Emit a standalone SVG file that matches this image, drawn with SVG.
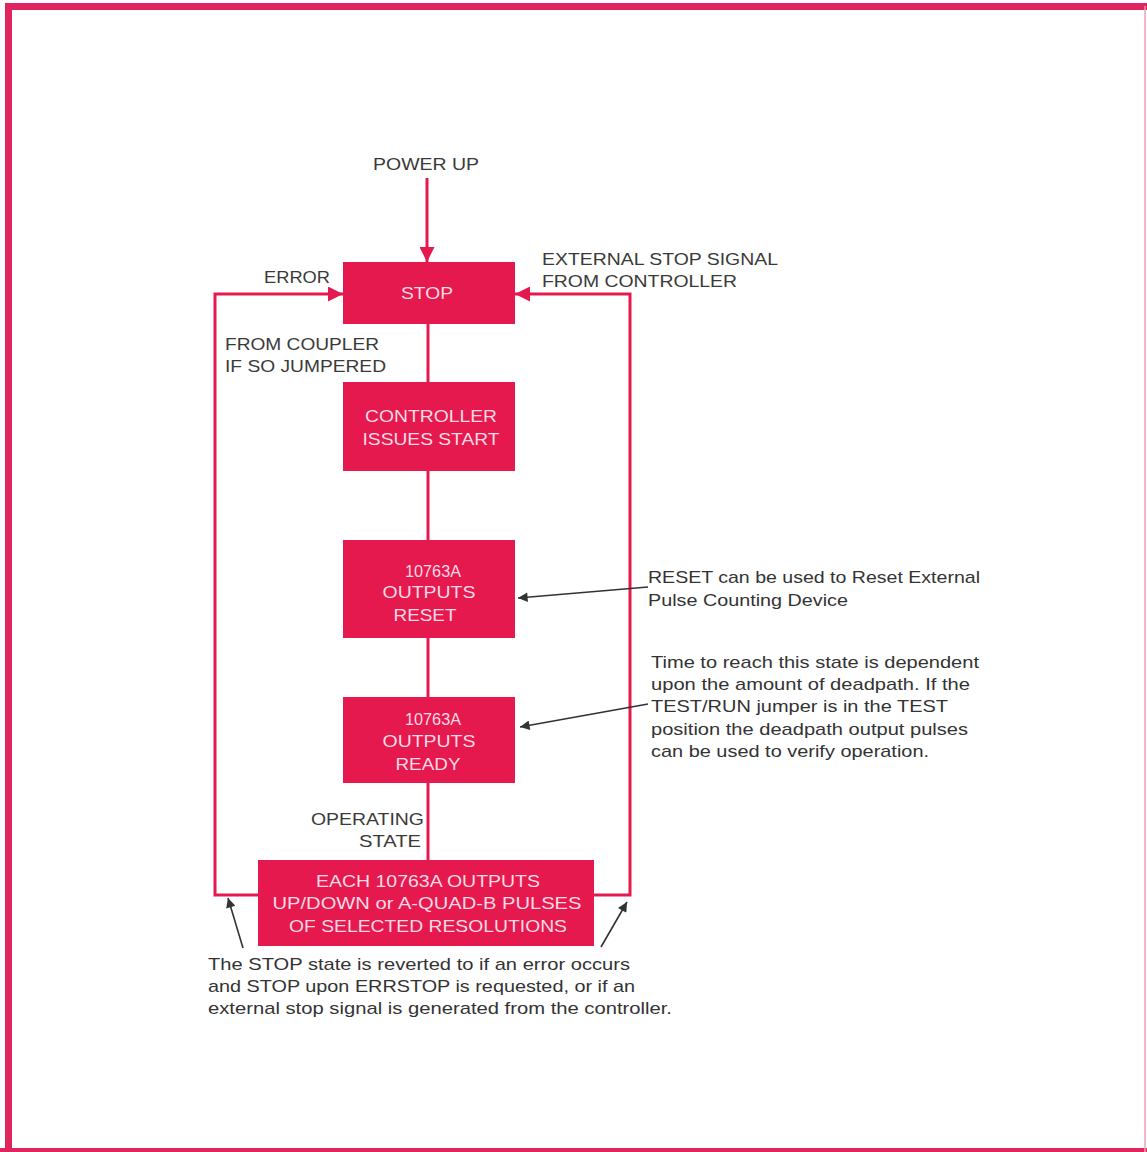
<svg xmlns="http://www.w3.org/2000/svg" width="1147" height="1152" viewBox="0 0 1147 1152">
<defs>
<style>
.box{fill:#e6194f;}
.bt{font-family:"Liberation Sans",Arial,sans-serif;font-size:17px;fill:#fbd9e3;text-anchor:middle;}
.lb{font-family:"Liberation Sans",Arial,sans-serif;font-size:17px;fill:#3a3a3a;}
.note{font-family:"Liberation Sans",Arial,sans-serif;font-size:17px;fill:#333;}
.pk{fill:none;stroke:#e6194f;stroke-width:3;}
.bk{fill:none;stroke:#333;stroke-width:1.6;}
</style>
<marker id="pa" viewBox="0 0 10 10" refX="10" refY="5" markerWidth="5" markerHeight="5" markerUnits="strokeWidth" orient="auto">
<path d="M0,0 L10,5 L0,10 z" fill="#e6194f"/>
</marker>
<marker id="ba" viewBox="0 0 10 10" refX="10" refY="5" markerWidth="7" markerHeight="6" markerUnits="strokeWidth" orient="auto">
<path d="M0,0 L10,5 L0,10 z" fill="#333"/>
</marker>
</defs>
<rect width="1147" height="1152" fill="#ffffff"/>
<g id="frame">
<path d="M8.5,1152 V6.5 H1147" fill="none" stroke="#e0245e" stroke-width="7"/>
<line x1="0" y1="1150" x2="1147" y2="1150" stroke="#e0245e" stroke-width="4"/>
<line x1="1145" y1="6" x2="1145" y2="1152" stroke="#f0a0b8" stroke-width="1.5"/>
</g>
<g id="connectors">
<line class="pk" x1="427" y1="178" x2="427" y2="262" marker-end="url(#pa)"/>
<path class="pk" d="M258,895 H215 V294 H343" marker-end="url(#pa)"/>
<path class="pk" d="M594,895 H630 V294 H515" marker-end="url(#pa)"/>
<line class="pk" x1="428" y1="324" x2="428" y2="382"/>
<line class="pk" x1="428" y1="471" x2="428" y2="540"/>
<line class="pk" x1="428" y1="638" x2="428" y2="697"/>
<line class="pk" x1="428" y1="783" x2="428" y2="860"/>
<line class="bk" x1="648" y1="587" x2="518" y2="598" marker-end="url(#ba)"/>
<line class="bk" x1="648" y1="704" x2="520" y2="727" marker-end="url(#ba)"/>
<line class="bk" x1="243" y1="948" x2="228" y2="898" marker-end="url(#ba)"/>
<line class="bk" x1="601" y1="947" x2="627" y2="902" marker-end="url(#ba)"/>
</g>
<g id="labels">
<text class="lb" x="373" y="170" textLength="106" lengthAdjust="spacingAndGlyphs">POWER  UP</text>
<text class="lb" x="264" y="283" textLength="66" lengthAdjust="spacingAndGlyphs">ERROR</text>
<text class="lb" x="542" y="265" textLength="236" lengthAdjust="spacingAndGlyphs">EXTERNAL STOP SIGNAL</text>
<text class="lb" x="542" y="287" textLength="195" lengthAdjust="spacingAndGlyphs">FROM CONTROLLER</text>
<text class="lb" x="225" y="350" textLength="154" lengthAdjust="spacingAndGlyphs">FROM COUPLER</text>
<text class="lb" x="225" y="372" textLength="161" lengthAdjust="spacingAndGlyphs">IF SO JUMPERED</text>
<text class="lb" x="311" y="825" textLength="113" lengthAdjust="spacingAndGlyphs">OPERATING</text>
<text class="lb" x="359" y="847" textLength="62" lengthAdjust="spacingAndGlyphs">STATE</text>
</g>
<g id="node-stop">
<rect class="box" x="343" y="262" width="172" height="62"/>
<text class="bt" x="427" y="299" textLength="52" lengthAdjust="spacingAndGlyphs">STOP</text>
</g>
<g id="node-controller">
<rect class="box" x="343" y="382" width="172" height="89"/>
<text class="bt" x="431" y="422" textLength="132" lengthAdjust="spacingAndGlyphs">CONTROLLER</text>
<text class="bt" x="431" y="445" textLength="137" lengthAdjust="spacingAndGlyphs">ISSUES START</text>
</g>
<g id="node-reset">
<rect class="box" x="343" y="540" width="172" height="98"/>
<text class="bt" x="433" y="577" textLength="56" lengthAdjust="spacingAndGlyphs">10763A</text>
<text class="bt" x="429" y="598" textLength="93" lengthAdjust="spacingAndGlyphs">OUTPUTS</text>
<text class="bt" x="425" y="621" textLength="63" lengthAdjust="spacingAndGlyphs">RESET</text>
</g>
<g id="node-ready">
<rect class="box" x="343" y="697" width="172" height="86"/>
<text class="bt" x="433" y="725" textLength="56" lengthAdjust="spacingAndGlyphs">10763A</text>
<text class="bt" x="429" y="747" textLength="93" lengthAdjust="spacingAndGlyphs">OUTPUTS</text>
<text class="bt" x="428" y="770" textLength="65" lengthAdjust="spacingAndGlyphs">READY</text>
</g>
<g id="node-each">
<rect class="box" x="258" y="860" width="336" height="86"/>
<text class="bt" x="428" y="887" textLength="224" lengthAdjust="spacingAndGlyphs">EACH 10763A OUTPUTS</text>
<text class="bt" x="427" y="909" textLength="309" lengthAdjust="spacingAndGlyphs">UP/DOWN or A-QUAD-B PULSES</text>
<text class="bt" x="428" y="932" textLength="278" lengthAdjust="spacingAndGlyphs">OF SELECTED RESOLUTIONS</text>
</g>
<g id="note-reset">
<text class="note" x="648" y="583" textLength="332" lengthAdjust="spacingAndGlyphs">RESET can be used to Reset External</text>
<text class="note" x="648" y="606" textLength="200" lengthAdjust="spacingAndGlyphs">Pulse Counting Device</text>
</g>
<g id="note-ready">
<text class="note" x="651" y="668" textLength="328" lengthAdjust="spacingAndGlyphs">Time to reach this state is dependent</text>
<text class="note" x="651" y="690" textLength="319" lengthAdjust="spacingAndGlyphs">upon the amount of deadpath. If the</text>
<text class="note" x="651" y="712" textLength="297" lengthAdjust="spacingAndGlyphs">TEST/RUN jumper is in the TEST</text>
<text class="note" x="651" y="735" textLength="317" lengthAdjust="spacingAndGlyphs">position the deadpath output pulses</text>
<text class="note" x="651" y="757" textLength="278" lengthAdjust="spacingAndGlyphs">can be used to verify operation.</text>
</g>
<g id="note-stop">
<text class="note" x="208" y="970" textLength="422" lengthAdjust="spacingAndGlyphs">The STOP state is reverted to if an error occurs</text>
<text class="note" x="208" y="992" textLength="427" lengthAdjust="spacingAndGlyphs">and STOP upon ERRSTOP is requested, or if an</text>
<text class="note" x="208" y="1014" textLength="464" lengthAdjust="spacingAndGlyphs">external stop signal is generated from the controller.</text>
</g>
</svg>
